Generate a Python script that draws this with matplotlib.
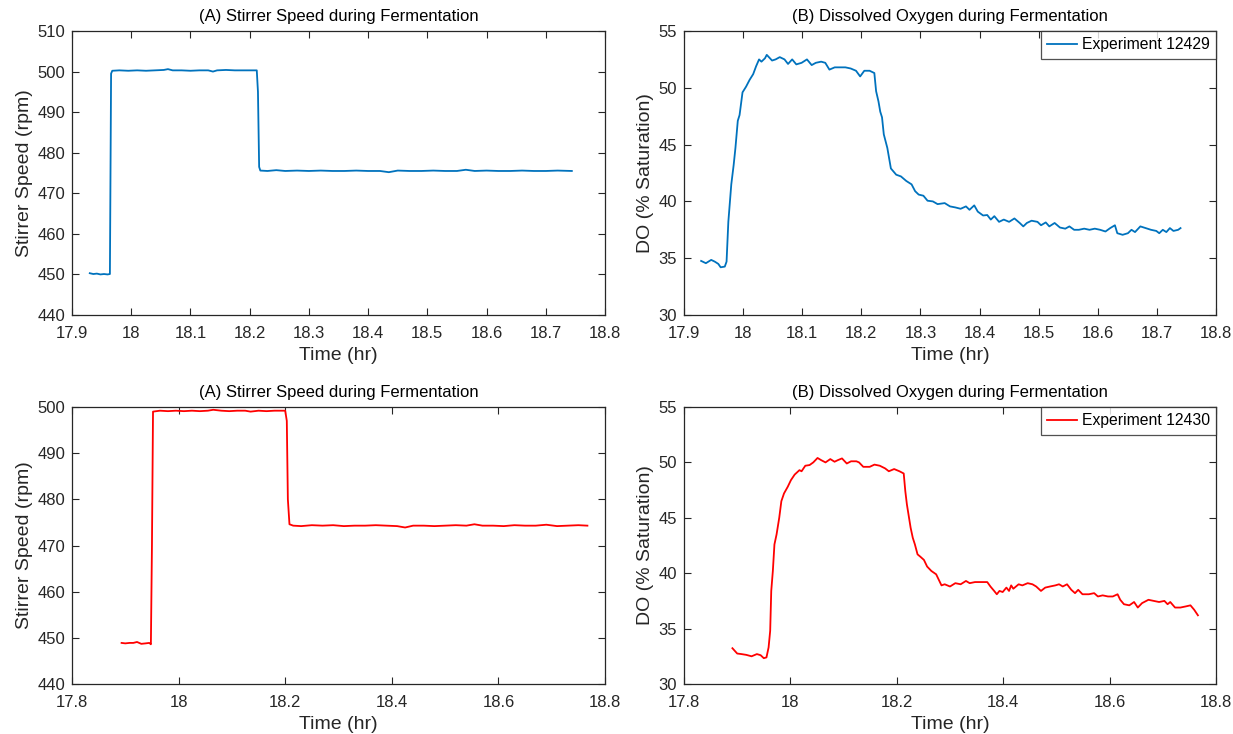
import matplotlib
matplotlib.use("Agg")
import matplotlib.pyplot as plt

plt.rcParams['font.family'] = ['Liberation Sans', 'DejaVu Sans']

# ---------------- Experiment 12429 ----------------
stir1_t = [17.930, 17.936, 17.942, 17.948, 17.954, 17.960, 17.964, 17.966, 17.968,
           17.980, 17.995, 18.010, 18.025, 18.040, 18.055, 18.062, 18.070, 18.085,
           18.100, 18.115, 18.130, 18.138, 18.145, 18.160, 18.175, 18.190, 18.205,
           18.212, 18.214, 18.216, 18.218, 18.230, 18.245, 18.260, 18.280, 18.300,
           18.320, 18.340, 18.360, 18.380, 18.400, 18.420, 18.435, 18.450, 18.470,
           18.490, 18.510, 18.530, 18.550, 18.565, 18.580, 18.600, 18.620, 18.640,
           18.660, 18.680, 18.700, 18.720, 18.744]
stir1_v = [450.3, 450.1, 450.2, 450.0, 450.1, 450.0, 450.1, 499.5, 500.2,
           500.3, 500.2, 500.3, 500.2, 500.3, 500.4, 500.6, 500.3, 500.3,
           500.2, 500.3, 500.3, 500.0, 500.3, 500.4, 500.3, 500.3, 500.3,
           500.3, 495.0, 476.5, 475.6, 475.5, 475.7, 475.5, 475.6, 475.5,
           475.6, 475.5, 475.5, 475.6, 475.5, 475.5, 475.2, 475.6, 475.5,
           475.5, 475.6, 475.5, 475.5, 475.8, 475.5, 475.6, 475.5, 475.5,
           475.6, 475.5, 475.5, 475.6, 475.5]

do1_t = [17.929, 17.937, 17.946, 17.952, 17.958, 17.962, 17.969, 17.972, 17.975, 17.980,
         17.984, 17.987, 17.991, 17.994, 17.999, 18.005, 18.011, 18.017, 18.022, 18.027,
         18.031, 18.037, 18.040, 18.049, 18.055, 18.062, 18.070, 18.076, 18.083, 18.090,
         18.099, 18.108, 18.116, 18.123, 18.132, 18.139, 18.146, 18.155, 18.164, 18.173,
         18.182, 18.191, 18.198, 18.205, 18.214, 18.222, 18.225, 18.229, 18.232, 18.235,
         18.238, 18.244, 18.247, 18.250, 18.259, 18.267, 18.276, 18.285, 18.291, 18.297,
         18.305, 18.312, 18.321, 18.329, 18.341, 18.350, 18.359, 18.368, 18.377, 18.383,
         18.391, 18.397, 18.406, 18.413, 18.419, 18.425, 18.433, 18.441, 18.450, 18.459,
         18.468, 18.474, 18.480, 18.488, 18.498, 18.504, 18.512, 18.518, 18.527, 18.536,
         18.545, 18.552, 18.560, 18.568, 18.577, 18.586, 18.595, 18.604, 18.613, 18.621,
         18.629, 18.633, 18.642, 18.651, 18.657, 18.663, 18.672, 18.681, 18.690, 18.699,
         18.704, 18.710, 18.716, 18.722, 18.728, 18.736, 18.740]
do1_v = [34.76, 34.56, 34.85, 34.70, 34.50, 34.20, 34.26, 34.70, 38.20, 41.50,
         43.20, 44.70, 47.10, 47.60, 49.60, 50.10, 50.70, 51.20, 51.90, 52.50,
         52.30, 52.60, 52.90, 52.40, 52.50, 52.70, 52.50, 52.10, 52.50, 52.06,
         52.20, 52.50, 52.00, 52.20, 52.30, 52.20, 51.60, 51.80, 51.80, 51.80,
         51.70, 51.50, 51.00, 51.50, 51.50, 51.30, 49.70, 48.80, 47.90, 47.40,
         45.90, 44.70, 43.80, 42.90, 42.35, 42.20, 41.80, 41.50, 40.90, 40.60,
         40.50, 40.06, 40.00, 39.76, 39.85, 39.56, 39.47, 39.35, 39.56, 39.26,
         39.65, 39.10, 38.76, 38.80, 38.40, 38.70, 38.20, 38.40, 38.20, 38.50,
         38.10, 37.80, 38.10, 38.30, 38.20, 37.90, 38.15, 37.80, 38.10, 37.70,
         37.60, 37.80, 37.50, 37.50, 37.60, 37.50, 37.60, 37.50, 37.35, 37.65,
         37.90, 37.20, 37.06, 37.20, 37.50, 37.30, 37.80, 37.65, 37.50, 37.40,
         37.20, 37.50, 37.30, 37.65, 37.40, 37.50, 37.65]

# ---------------- Experiment 12430 ----------------
stir2_t = [17.893, 17.900, 17.908, 17.915, 17.922, 17.930, 17.938, 17.945, 17.948, 17.950,
           17.952, 17.965, 17.980, 17.995, 18.010, 18.025, 18.040, 18.055, 18.065, 18.080,
           18.095, 18.110, 18.125, 18.135, 18.150, 18.165, 18.180, 18.195, 18.200, 18.203,
           18.205, 18.208, 18.215, 18.230, 18.250, 18.270, 18.290, 18.310, 18.330, 18.350,
           18.370, 18.390, 18.410, 18.425, 18.440, 18.460, 18.480, 18.500, 18.520, 18.540,
           18.555, 18.570, 18.590, 18.610, 18.630, 18.650, 18.670, 18.690, 18.710, 18.730,
           18.750, 18.767]
stir2_v = [448.9, 448.8, 448.9, 448.9, 449.1, 448.7, 448.8, 448.9, 448.6, 470.0,
           499.0, 499.2, 499.1, 499.2, 499.1, 499.2, 499.1, 499.2, 499.4, 499.2,
           499.1, 499.2, 499.2, 499.0, 499.2, 499.1, 499.2, 499.2, 499.2, 497.0,
           480.0, 474.6, 474.3, 474.2, 474.4, 474.3, 474.4, 474.2, 474.3, 474.3,
           474.4, 474.3, 474.2, 473.9, 474.3, 474.3, 474.2, 474.3, 474.4, 474.3,
           474.6, 474.3, 474.3, 474.2, 474.4, 474.3, 474.3, 474.5, 474.2, 474.3,
           474.4, 474.3]

do2_t = [17.891, 17.900, 17.908, 17.917, 17.927, 17.937, 17.944, 17.950, 17.955, 17.959,
         17.962, 17.964, 17.967, 17.970, 17.974, 17.979, 17.983, 17.988, 17.995, 18.001,
         18.008, 18.017, 18.021, 18.028, 18.036, 18.043, 18.051, 18.058, 18.066, 18.075,
         18.083, 18.089, 18.097, 18.106, 18.114, 18.124, 18.129, 18.137, 18.149, 18.158,
         18.168, 18.178, 18.185, 18.195, 18.205, 18.213, 18.216, 18.219, 18.222, 18.226,
         18.230, 18.234, 18.239, 18.244, 18.251, 18.257, 18.265, 18.274, 18.279, 18.284,
         18.290, 18.300, 18.310, 18.320, 18.330, 18.337, 18.347, 18.356, 18.370, 18.376,
         18.383, 18.388, 18.393, 18.399, 18.406, 18.411, 18.415, 18.419, 18.429, 18.436,
         18.446, 18.455, 18.462, 18.471, 18.479, 18.488, 18.498, 18.505, 18.512, 18.520,
         18.528, 18.535, 18.541, 18.549, 18.561, 18.571, 18.578, 18.587, 18.597, 18.606,
         18.615, 18.620, 18.627, 18.637, 18.646, 18.653, 18.661, 18.673, 18.683, 18.693,
         18.703, 18.709, 18.714, 18.723, 18.733, 18.743, 18.752, 18.759, 18.766]
do2_v = [33.23, 32.75, 32.70, 32.63, 32.50, 32.70, 32.60, 32.33, 32.40, 33.30,
         34.80, 38.40, 40.20, 42.60, 43.50, 45.00, 46.50, 47.20, 47.80, 48.40,
         48.90, 49.30, 49.20, 49.70, 49.76, 50.00, 50.40, 50.20, 50.00, 50.30,
         50.06, 50.20, 50.36, 49.90, 50.10, 50.10, 50.00, 49.60, 49.60, 49.80,
         49.70, 49.46, 49.20, 49.40, 49.20, 49.00, 47.40, 46.20, 45.30, 44.10,
         43.20, 42.60, 41.70, 41.50, 41.20, 40.60, 40.20, 39.90, 39.40, 38.90,
         39.00, 38.80, 39.10, 39.00, 39.30, 39.10, 39.20, 39.20, 39.20, 38.80,
         38.40, 38.10, 38.40, 38.30, 38.70, 38.40, 38.90, 38.60, 39.00, 38.90,
         39.10, 39.00, 38.80, 38.40, 38.70, 38.80, 38.90, 39.00, 38.80, 39.00,
         38.50, 38.20, 38.50, 38.10, 38.10, 38.20, 37.90, 38.00, 37.90, 37.90,
         38.10, 37.60, 37.20, 37.10, 37.40, 36.90, 37.30, 37.60, 37.50, 37.40,
         37.50, 37.20, 37.40, 36.90, 36.90, 37.00, 37.10, 36.70, 36.20]

legend_labels = ["Experiment 12429", "Experiment 12430"]
title_a = "(A) Stirrer Speed during Fermentation"
title_b = "(B) Dissolved Oxygen during Fermentation"

blue = "#0072BD"
red = "#FF0000"
axcol = "#262626"

fig = plt.figure(figsize=(12.33, 7.34), dpi=100)
W, H = 1233, 734

def make_ax(x0, x1, y0, y1):
    return fig.add_axes([x0 / W, 1 - y1 / H, (x1 - x0) / W, (y1 - y0) / H])

axA1 = make_ax(72, 605, 31, 315)
axB1 = make_ax(684, 1216, 31, 315)
axA2 = make_ax(72, 605, 407, 684)
axB2 = make_ax(684, 1216, 407, 684)

def style(ax, title, ylabel):
    for s in ax.spines.values():
        s.set_color(axcol)
        s.set_linewidth(0.9)
    ax.tick_params(direction='in', top=True, right=True, length=5, width=0.8,
                   colors=axcol, labelsize=12)
    ax.tick_params(axis='x', pad=8)
    ax.tick_params(axis='y', pad=5)
    ax.set_title(title, fontsize=12, color='black', pad=7)
    ax.set_xlabel("Time (hr)", fontsize=14, color=axcol, labelpad=4)
    ax.set_ylabel(ylabel, fontsize=14, color=axcol, labelpad=3)

axA1.plot(stir1_t, stir1_v, color=blue, lw=1.3)
axA1.set_xlim(17.9, 18.8)
axA1.set_ylim(440, 510)
axA1.set_xticks([17.9, 18.0, 18.1, 18.2, 18.3, 18.4, 18.5, 18.6, 18.7, 18.8])
axA1.set_xticklabels(["17.9", "18", "18.1", "18.2", "18.3", "18.4", "18.5", "18.6", "18.7", "18.8"])
axA1.set_yticks([440, 450, 460, 470, 480, 490, 500, 510])
style(axA1, title_a, "Stirrer Speed (rpm)")

axB1.plot(do1_t, do1_v, color=blue, lw=1.3, label=legend_labels[0])
axB1.set_xlim(17.9, 18.8)
axB1.set_ylim(30, 55)
axB1.set_xticks([17.9, 18.0, 18.1, 18.2, 18.3, 18.4, 18.5, 18.6, 18.7, 18.8])
axB1.set_xticklabels(["17.9", "18", "18.1", "18.2", "18.3", "18.4", "18.5", "18.6", "18.7", "18.8"])
axB1.set_yticks([30, 35, 40, 45, 50, 55])
style(axB1, title_b, "DO (% Saturation)")

axA2.plot(stir2_t, stir2_v, color=red, lw=1.3)
axA2.set_xlim(17.8, 18.8)
axA2.set_ylim(440, 500)
axA2.set_xticks([17.8, 18.0, 18.2, 18.4, 18.6, 18.8])
axA2.set_xticklabels(["17.8", "18", "18.2", "18.4", "18.6", "18.8"])
axA2.set_yticks([440, 450, 460, 470, 480, 490, 500])
style(axA2, title_a, "Stirrer Speed (rpm)")

axB2.plot(do2_t, do2_v, color=red, lw=1.3, label=legend_labels[1])
axB2.set_xlim(17.8, 18.8)
axB2.set_ylim(30, 55)
axB2.set_xticks([17.8, 18.0, 18.2, 18.4, 18.6, 18.8])
axB2.set_xticklabels(["17.8", "18", "18.2", "18.4", "18.6", "18.8"])
axB2.set_yticks([30, 35, 40, 45, 50, 55])
style(axB2, title_b, "DO (% Saturation)")

for ax in (axB1, axB2):
    leg = ax.legend(loc='upper right', fontsize=11.3, frameon=True, fancybox=False,
                    borderaxespad=0.0, handlelength=1.9, handletextpad=0.3,
                    borderpad=0.4)
    leg.get_frame().set_edgecolor(axcol)
    leg.get_frame().set_linewidth(0.9)

fig.savefig("out.png", dpi=100)
